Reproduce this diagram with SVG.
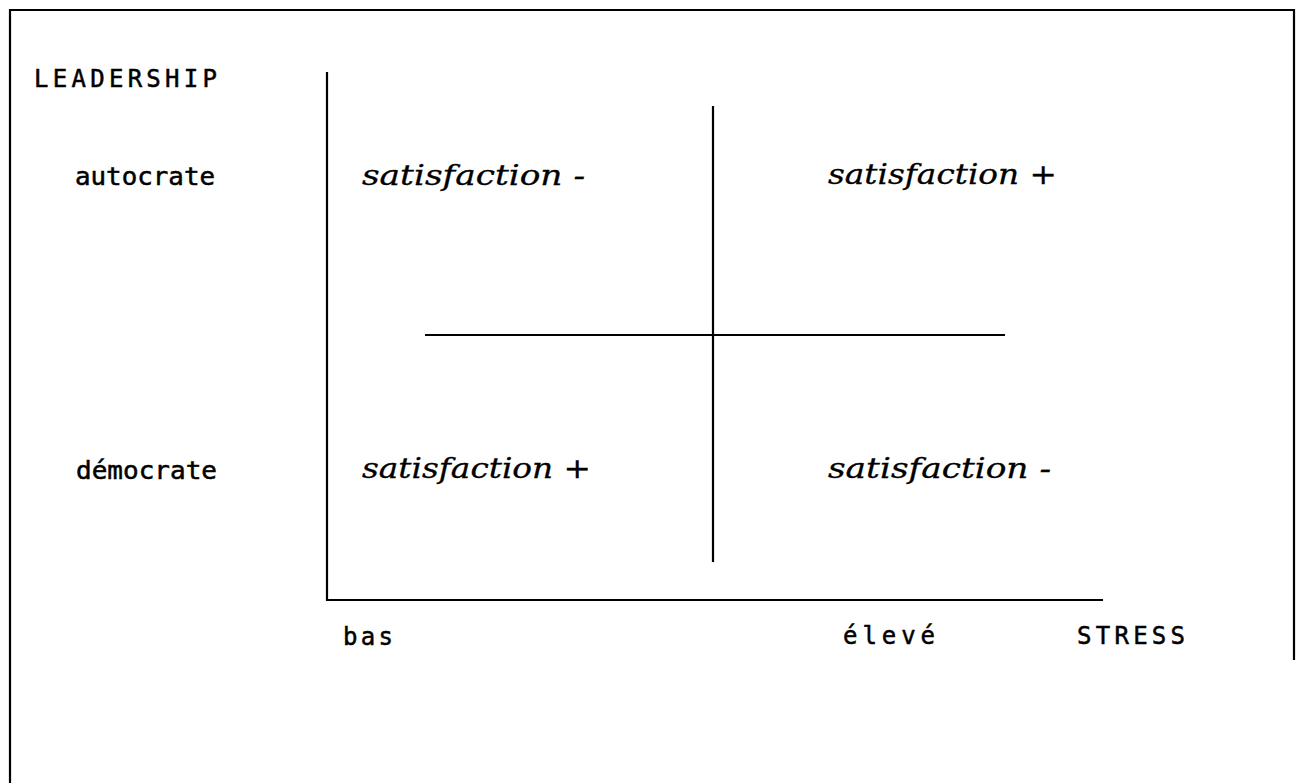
<svg xmlns="http://www.w3.org/2000/svg" width="1296" height="783" viewBox="0 0 1296 783">
<style>
.ln{stroke:#000;stroke-width:2.2;fill:none}
.sans{font-family:"DejaVu Sans Mono","Liberation Mono",monospace;font-size:24px;fill:#000;stroke:#000;stroke-width:0.5}
.ital{font-family:"DejaVu Serif","Liberation Serif",serif;font-style:italic;font-size:27px;fill:#000;stroke:#000;stroke-width:0.3}
</style>
<rect width="1296" height="783" fill="#fff"/>
<g id="frame">
<path class="ln" d="M10,783 V10 H1294 V660"/>
</g>
<g id="connectors">
<path class="ln" d="M327,72 V600 H1103"/>
<path class="ln" d="M713,106 V562"/>
<path class="ln" d="M425,335 H1005"/>
</g>
<g id="axis-y-label"><text class="sans" x="34" y="87" textLength="183" lengthAdjust="spacing">LEADERSHIP</text></g>
<g id="autocrate"><text class="sans" x="75" y="185" textLength="140" lengthAdjust="spacingAndGlyphs">autocrate</text></g>
<g id="democrate"><text class="sans" x="76" y="479" textLength="141" lengthAdjust="spacingAndGlyphs">démocrate</text></g>
<g id="q1"><text class="ital" x="362" y="185" textLength="223" lengthAdjust="spacingAndGlyphs">satisfaction -</text></g>
<g id="q2"><text class="ital" x="828" y="184" textLength="229" lengthAdjust="spacingAndGlyphs">satisfaction +</text></g>
<g id="q3"><text class="ital" x="362" y="478" textLength="229" lengthAdjust="spacingAndGlyphs">satisfaction +</text></g>
<g id="q4"><text class="ital" x="828" y="478" textLength="223" lengthAdjust="spacingAndGlyphs">satisfaction -</text></g>
<g id="bas"><text class="sans" x="343" y="645" textLength="50" lengthAdjust="spacing">bas</text></g>
<g id="eleve"><text class="sans" x="843" y="644" textLength="92" lengthAdjust="spacing">élevé</text></g>
<g id="stress"><text class="sans" x="1077" y="644" textLength="108" lengthAdjust="spacing">STRESS</text></g>
</svg>
